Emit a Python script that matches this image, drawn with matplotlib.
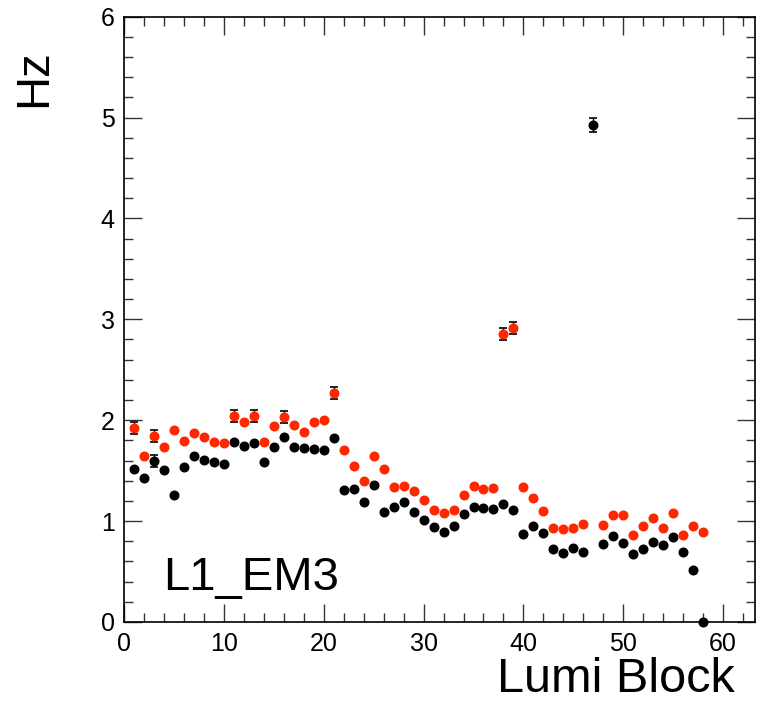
import matplotlib
matplotlib.use("Agg")
import matplotlib.pyplot as plt
import numpy as np
from matplotlib.ticker import MultipleLocator

plt.rcParams['font.family'] = ['Liberation Sans', 'DejaVu Sans']

# lumi blocks 1..58
lumi = list(range(1, 59))

# black series (Hz)
black = [1.52, 1.43, 1.60, 1.51, 1.26, 1.54, 1.65, 1.61, 1.59, 1.57,
         1.78, 1.74, 1.77, 1.59, 1.73, 1.83, 1.73, 1.72, 1.71, 1.70,
         1.82, 1.31, 1.32, 1.19, 1.36, 1.09, 1.14, 1.19, 1.09, 1.01,
         0.94, 0.89, 0.95, 1.07, 1.14, 1.13, 1.12, 1.17, 1.11, 0.87,
         0.95, 0.88, 0.72, 0.68, 0.73, 0.69, 4.93, 0.77, 0.85, 0.78,
         0.67, 0.72, 0.79, 0.76, 0.84, 0.69, 0.52, 0.00]
black_err = [0, 0, 0.06, 0, 0, 0, 0, 0, 0, 0,
             0, 0, 0, 0, 0, 0, 0, 0, 0, 0,
             0, 0, 0, 0, 0, 0, 0, 0, 0, 0,
             0, 0, 0, 0, 0, 0, 0, 0, 0, 0,
             0, 0, 0, 0, 0, 0, 0.07, 0, 0, 0,
             0, 0, 0, 0, 0, 0, 0, 0]

# red series (Hz), no point at lumi block 47
red = [1.92, 1.65, 1.84, 1.73, 1.90, 1.79, 1.87, 1.83, 1.78, 1.77,
       2.04, 1.98, 2.04, 1.78, 1.94, 2.03, 1.95, 1.88, 1.98, 2.00,
       2.27, 1.70, 1.55, 1.40, 1.65, 1.52, 1.34, 1.35, 1.30, 1.21,
       1.11, 1.08, 1.11, 1.26, 1.35, 1.32, 1.33, 2.85, 2.91, 1.34,
       1.23, 1.10, 0.93, 0.92, 0.93, 0.97, np.nan, 0.96, 1.06, 1.06,
       0.86, 0.95, 1.03, 0.93, 1.08, 0.86, 0.95, 0.89]
red_err = [0.06, 0, 0.06, 0, 0, 0, 0, 0, 0, 0,
           0.06, 0, 0.06, 0, 0, 0.06, 0, 0, 0, 0,
           0.06, 0, 0, 0, 0, 0, 0, 0, 0, 0,
           0, 0, 0, 0, 0, 0, 0, 0.06, 0.06, 0,
           0, 0, 0, 0, 0, 0, 0, 0, 0, 0,
           0, 0, 0, 0, 0, 0, 0, 0]

fig = plt.figure(figsize=(7.57, 7.08), dpi=100)
ax = fig.add_axes([0.1642, 0.1215, 0.833, 0.855])

ax.errorbar(lumi, black, yerr=black_err, fmt='o', color='black', ms=6.2,
            elinewidth=1.0, capsize=3, capthick=1.2, clip_on=False, zorder=3)
ax.errorbar(lumi, red, yerr=red_err, fmt='o', color='#ff2600', mec='#ff2600',
            ecolor='black', ms=6.2, elinewidth=1.0, capsize=3, capthick=1.2,
            clip_on=False, zorder=3)

ax.set_xlim(0, 63.2)
ax.set_ylim(0, 6)
ax.xaxis.set_major_locator(MultipleLocator(10))
ax.xaxis.set_minor_locator(MultipleLocator(2))
ax.yaxis.set_major_locator(MultipleLocator(1))
ax.yaxis.set_minor_locator(MultipleLocator(0.2))

ax.tick_params(which='both', direction='in', top=True, right=True,
               labelsize=18, width=1.0, color='#333333')
ax.tick_params(which='major', length=13, pad=7)
ax.tick_params(which='minor', length=6.5)
for s in ax.spines.values():
    s.set_linewidth(1.2)

ax.text(3.9, 0.32, 'L1_EM3', fontsize=34, ha='left', va='baseline')

fig.text(0.971, 0.008, 'Lumi Block', fontsize=35, ha='right', va='bottom')
fig.text(0.045, 0.93, 'Hz', fontsize=34, rotation=90, ha='center', va='top')

fig.savefig('out.png', dpi=100)
